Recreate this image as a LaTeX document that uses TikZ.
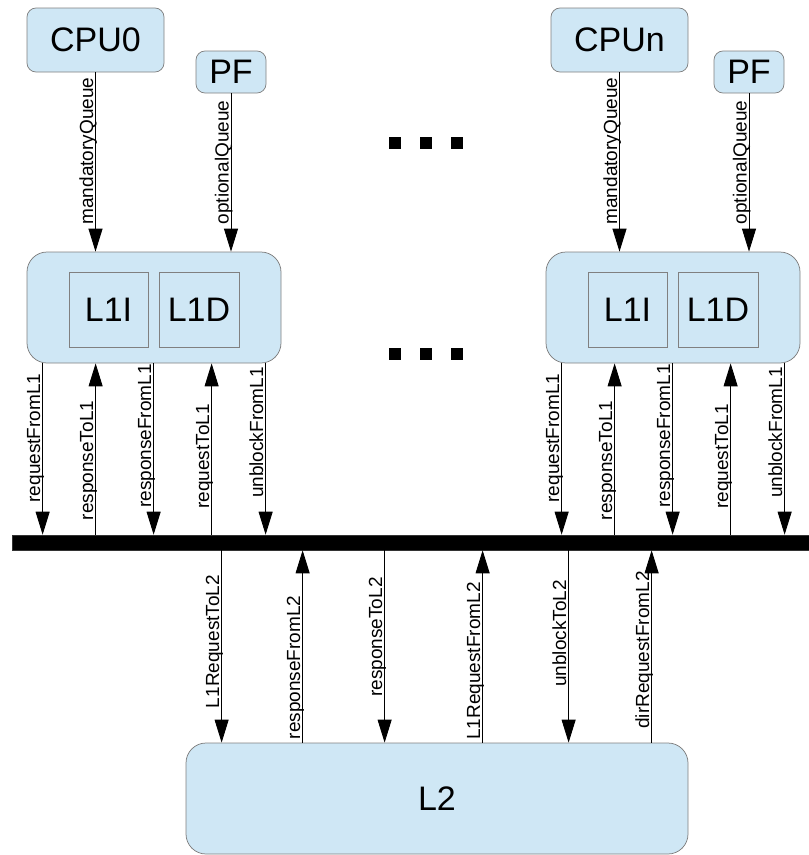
\documentclass[tikz,border=0pt]{standalone}
\usepackage{fontspec}
\setmainfont{Liberation Sans}
\usetikzlibrary{arrows.meta}

\definecolor{cachefill}{RGB}{207,231,245}
\definecolor{edge}{RGB}{128,128,128}
\newcommand\unitfont{\fontsize{34}{38}\selectfont}
\newcommand\sigfont{\fontsize{19}{21}\selectfont}

\tikzset{
  unit/.style={draw=edge, fill=cachefill, line width=0.75pt, inner sep=0pt, font=\unitfont},
  cpubox/.style={unit, rounded corners=9pt},
  cachebox/.style={unit, rounded corners=20pt},
  subcache/.style={unit},
  busbar/.style={fill=black, draw=black!80, line width=0.6pt, inner sep=0pt},
  link/.style={line width=0.9pt, -{Triangle[length=23pt,width=14pt]}},
  sig/.style={rotate=90, anchor=base, inner sep=0pt, font=\sigfont},
  dotmark/.style={fill=black, minimum size=12pt, inner sep=0pt}
}

\begin{document}
\begin{tikzpicture}[x=1pt, y=-1pt]
\useasboundingbox (0,0) rectangle (809,855);

% processors and prefetchers
\node[cpubox, minimum width=137pt, minimum height=64pt] (cpu0) at (95.5,40) {CPU0};
\node[cpubox, minimum width=70pt, minimum height=42pt] (pf0) at (231,72) {PF};
\node[cpubox, minimum width=137pt, minimum height=64pt] (cpun) at (619.5,40) {CPUn};
\node[cpubox, minimum width=70pt, minimum height=42pt] (pfn) at (749,72) {PF};

% L1 controllers with their instruction and data caches
\node[cachebox, minimum width=254pt, minimum height=111pt] (l1a) at (154,307.5) {};
\node[subcache, minimum width=79pt, minimum height=75pt] (l1ia) at (108.5,309.5) {L1I};
\node[subcache, minimum width=80pt, minimum height=75pt] (l1da) at (199,309.5) {L1D};
\node[cachebox, minimum width=254pt, minimum height=111pt] (l1b) at (673,307.5) {};
\node[subcache, minimum width=79pt, minimum height=75pt] (l1ib) at (627.5,309.5) {L1I};
\node[subcache, minimum width=80pt, minimum height=75pt] (l1db) at (718,309.5) {L1D};

% interconnect
\node[busbar, minimum width=797pt, minimum height=15pt] (bus) at (410.5,542.5) {};

% shared L2
\node[cachebox, minimum width=502pt, minimum height=111pt] (l2) at (437,798.5) {L2};

% ellipsis between cores
\foreach \dx [count=\i] in {395,426,457} {
  \node[dotmark] (dta\i) at (\dx,143) {};
  \node[dotmark] (dtb\i) at (\dx,354) {};
}

% processor / prefetcher queues into L1
\foreach \src/\dst/\yc/\txt in {cpu0/l1a/151/mandatoryQueue, pf0/l1a/162.5/optionalQueue,
                                cpun/l1b/151/mandatoryQueue, pfn/l1b/162.5/optionalQueue} {
  \draw[link] (\src.south) -- (\src.south |- \dst.north);
  \coordinate (lp) at (\src.south |- 0,\yc);
  \node[sig] at ([xshift=-2.5pt]lp) {\txt};
}

% L1 <-> interconnect
\foreach \l in {l1a,l1b} {
  \foreach \off/\yc/\txt in {16/438/requestFromL1, 127/436/responseFromL1, 239/432.5/unblockFromL1} {
    \coordinate (t) at ([xshift=\off pt]\l.south west);
    \draw[link] (t) -- (t |- bus.north);
    \coordinate (lp) at (t |- 0,\yc);
    \node[sig] at ([xshift=-2.5pt]lp) {\txt};
  }
  \foreach \off/\yc/\txt in {69/460.5/responseToL1, 185/456.5/requestToL1} {
    \coordinate (t) at ([xshift=\off pt]\l.south west);
    \draw[link] (t |- bus.north) -- (t);
    \coordinate (lp) at (t |- 0,\yc);
    \node[sig] at ([xshift=-2.5pt]lp) {\txt};
  }
}

% interconnect <-> L2
\foreach \off/\yc/\txt in {36/641.5/L1RequestToL2, 199/637/responseToL2, 383/633.5/unblockToL2} {
  \coordinate (t) at ([xshift=\off pt]l2.north west);
  \draw[link] (t |- bus.south) -- (t);
  \coordinate (lp) at (t |- 0,\yc);
  \node[sig] at ([xshift=-2.5pt]lp) {\txt};
}
\foreach \off/\yc/\txt in {117/667.5/responseFromL2, 297/661/L1RequestFromL2, 466/650/dirRequestFromL2} {
  \coordinate (t) at ([xshift=\off pt]l2.north west);
  \draw[link] (t) -- (t |- bus.south);
  \coordinate (lp) at (t |- 0,\yc);
  \node[sig] at ([xshift=-2.5pt]lp) {\txt};
}
\end{tikzpicture}
\end{document}
